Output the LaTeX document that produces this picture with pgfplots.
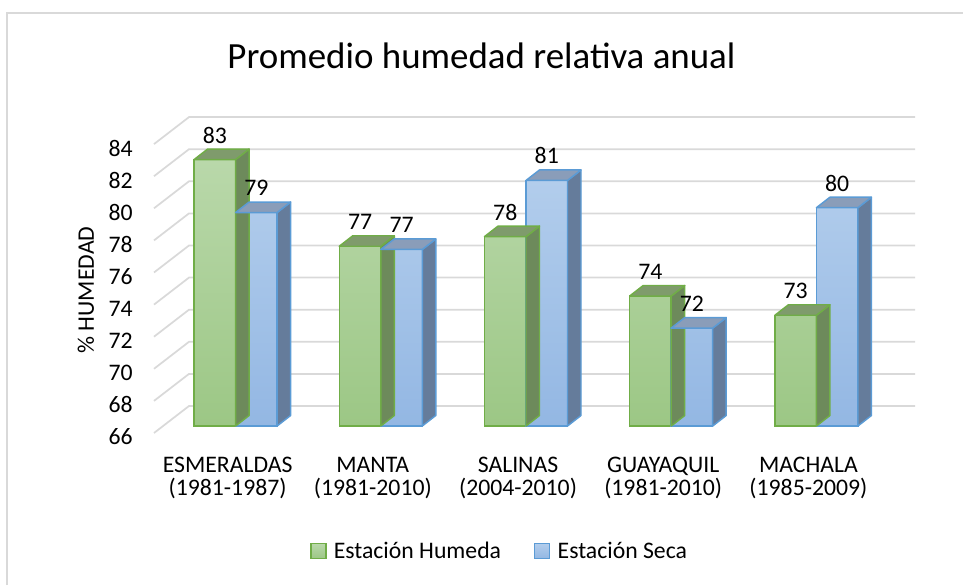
\documentclass[border=0pt]{standalone}
\usepackage{pgfplots}
\pgfplotsset{compat=1.18}
\usepackage{fontspec}
\setmainfont{Carlito}

\definecolor{gFtop}{HTML}{B9D8AA}
\definecolor{gFbot}{HTML}{9CC785}
\definecolor{gB}{HTML}{70AD47}
\definecolor{gT}{HTML}{7F9B6C}
\definecolor{gS}{HTML}{6D8A5B}
\definecolor{bFtop}{HTML}{B2CDEC}
\definecolor{bFbot}{HTML}{93B7E3}
\definecolor{bB}{HTML}{5B9BD5}
\definecolor{bT}{HTML}{8A9DB9}
\definecolor{bS}{HTML}{657C9B}
\definecolor{gridc}{HTML}{D9D9D9}

% top and side faces of a 3D bar (front face drawn by ybar)
\pgfdeclareplotmark{boxL}{%
  \pgfmathsetlengthmacro\hh{(\rawyv-66)*12.0375pt}%
  \pgfsetlinewidth{1.1pt}\pgfsetroundjoin
  \pgfsetstrokecolor{gB}%
  \pgfsetfillcolor{gS}%
  \pgfpathmoveto{\pgfpoint{0pt}{0pt}}%
  \pgfpathlineto{\pgfpoint{10.125pt}{7.875pt}}%
  \pgfpathlineto{\pgfpoint{10.125pt}{7.875pt-\hh}}%
  \pgfpathlineto{\pgfpoint{0pt}{-\hh}}%
  \pgfpathclose\pgfusepath{fill,stroke}%
  \pgfsetfillcolor{gT}%
  \pgfpathmoveto{\pgfpoint{-31.125pt}{0pt}}%
  \pgfpathlineto{\pgfpoint{0pt}{0pt}}%
  \pgfpathlineto{\pgfpoint{10.125pt}{7.875pt}}%
  \pgfpathlineto{\pgfpoint{-21pt}{7.875pt}}%
  \pgfpathclose\pgfusepath{fill,stroke}%
}
\pgfdeclareplotmark{boxR}{%
  \pgfmathsetlengthmacro\hh{(\rawyv-66)*12.0375pt}%
  \pgfsetlinewidth{1.1pt}\pgfsetroundjoin
  \pgfsetstrokecolor{bB}%
  \pgfsetfillcolor{bS}%
  \pgfpathmoveto{\pgfpoint{31.125pt}{0pt}}%
  \pgfpathlineto{\pgfpoint{41.25pt}{7.875pt}}%
  \pgfpathlineto{\pgfpoint{41.25pt}{7.875pt-\hh}}%
  \pgfpathlineto{\pgfpoint{31.125pt}{-\hh}}%
  \pgfpathclose\pgfusepath{fill,stroke}%
  \pgfsetfillcolor{bT}%
  \pgfpathmoveto{\pgfpoint{0pt}{0pt}}%
  \pgfpathlineto{\pgfpoint{31.125pt}{0pt}}%
  \pgfpathlineto{\pgfpoint{41.25pt}{7.875pt}}%
  \pgfpathlineto{\pgfpoint{10.125pt}{7.875pt}}%
  \pgfpathclose\pgfusepath{fill,stroke}%
}

\begin{document}
\begin{tikzpicture}
\path[use as bounding box] (0,0) rectangle (722.25pt,438.75pt);
% chart area border (left and top)
\draw[gridc, line width=1pt] (5.25pt,0pt) -- (5.25pt,429pt) -- (722.25pt,429pt);
% back wall and side wall gridlines
\foreach \v in {66,68,...,84}{
  \pgfmathsetmacro\yb{119.25+(\v-66)*12.0375}
  \draw[gridc, line width=1.3pt] (115.5pt,\yb pt-5.25pt) -- (141.75pt,\yb pt+15pt) -- (686.25pt,\yb pt+15pt);
}
% title and axis label
\node[anchor=base, font=\fontsize{27.7}{32}\selectfont] at (361.1pt,387.5pt) {Promedio humedad relativa anual};
\node[rotate=90, font=\fontsize{17.8}{20}\selectfont] at (64.5pt,221.25pt) {\% HUMEDAD};

\begin{axis}[
  at={(122.25pt,119.25pt)}, anchor=south west,
  x=108.9pt, y=12.0375pt,
  xmin=-0.5, xmax=4.5, ymin=0, ymax=20,
  clip=false,
  axis line style={draw=none},
  major tick length=0pt, tick style={draw=none},
  y filter/.expression={y-66},
  ytick={0,2,...,18},
  yticklabels={66,68,70,72,74,76,78,80,82,84},
  yticklabel style={anchor=east, inner sep=0pt, xshift=-22.5pt, yshift=-8.25pt, font=\fontsize{17.8}{20}\selectfont},
  xtick={0,1,2,3,4},
  xticklabels={{ESMERALDAS\\(1981-1987)},{MANTA\\(1981-2010)},{SALINAS\\(2004-2010)},{GUAYAQUIL\\(1981-2010)},{MACHALA\\(1985-2009)}},
  xticklabel style={align=center, anchor=north, inner sep=0pt, yshift=-23pt, xshift=-6pt, font=\fontsize{17.8}{17.5}\selectfont},
  legend style={at={(0.4642,-0.3894)}, anchor=center, draw=none, fill=none, legend columns=2,
    font=\fontsize{17.8}{20}\selectfont,
    /tikz/every odd column/.append style={column sep=3.4pt},
    /tikz/every even column/.append style={column sep=22.75pt}},
  legend image code/.code={\draw[#1, line width=1pt] (0pt,-5.6pt) rectangle (11.25pt,5.6pt);},
]
% Estacion Humeda
\addplot[scatter, only marks, mark=boxL, forget plot, visualization depends on={rawy \as \rawyv}]
  coordinates {(0,82.6) (1,77.2) (2,77.8) (3,74.1) (4,72.9)};
\addplot[ybar, bar width=31.125pt, bar shift=-15.5625pt, draw=gB, line width=1.1pt,
  top color=gFtop, bottom color=gFbot, point meta=rawy,
  nodes near coords={\pgfmathprintnumber[fixed,precision=0,assume math mode=true]{\pgfplotspointmeta}},
  every node near coord/.append style={anchor=center, xshift=-15.5625pt, yshift=18.4pt, font=\fontsize{17.8}{20}\selectfont, text=black}]
  coordinates {(0,82.6) (1,77.2) (2,77.8) (3,74.1) (4,72.9)};
\addlegendentry{Estación Humeda}
% Estacion Seca
\addplot[scatter, only marks, mark=boxR, forget plot, visualization depends on={rawy \as \rawyv}]
  coordinates {(0,79.3) (1,77.0) (2,81.3) (3,72.1) (4,79.6)};
\addplot[ybar, bar width=31.125pt, bar shift=15.5625pt, draw=bB, line width=1.1pt,
  top color=bFtop, bottom color=bFbot, point meta=rawy,
  nodes near coords={\pgfmathprintnumber[fixed,precision=0,assume math mode=true]{\pgfplotspointmeta}},
  every node near coord/.append style={anchor=center, xshift=15.5625pt, yshift=18.4pt, font=\fontsize{17.8}{20}\selectfont, text=black}]
  coordinates {(0,79.3) (1,77.0) (2,81.3) (3,72.1) (4,79.6)};
\addlegendentry{Estación Seca}
\end{axis}
\end{tikzpicture}
\end{document}
